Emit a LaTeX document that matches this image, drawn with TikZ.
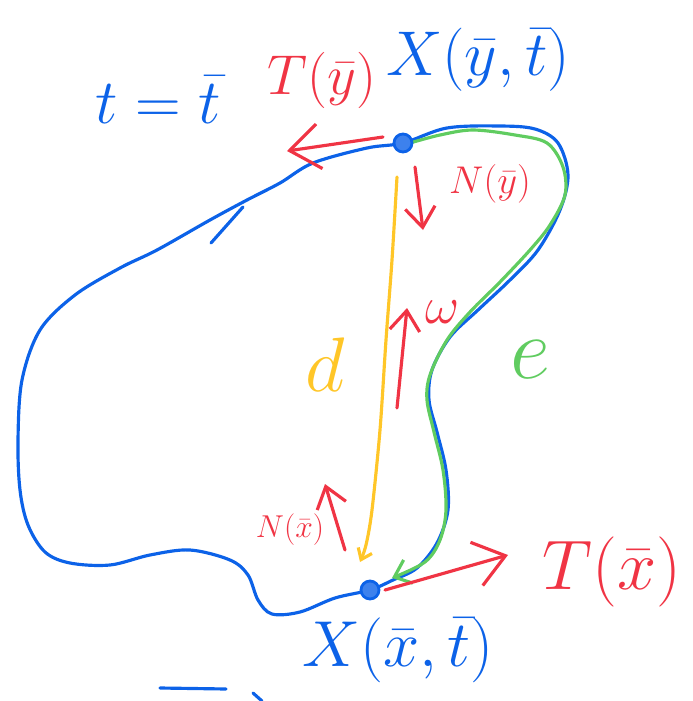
\RequirePackage{fix-cm}
\documentclass[tikz,border=0pt]{standalone}
\usepackage{amsmath}
\usetikzlibrary{arrows.meta, positioning}

\definecolor{penblue}{RGB}{12,98,232}
\definecolor{penred}{RGB}{240,52,68}
\definecolor{pengreen}{RGB}{96,204,96}
\definecolor{penyellow}{RGB}{255,198,40}

\begin{document}
\begin{tikzpicture}[
    x=0.02cm, y=-0.02cm,
    pen/.style={line width=1.8pt, line cap=round, line join=round},
    curve_blue/.style={pen, draw=penblue},
    curve_green/.style={pen, draw=pengreen, -{Straight Barb[length=3mm, width=5mm]}},
    curve_yellow/.style={pen, draw=penyellow, -{Straight Barb[length=2mm, width=3mm]}},
    arrow_red/.style={pen, draw=penred, -{Straight Barb[length=4mm, width=6mm]}},
    arrow_red_big/.style={arrow_red, -{Straight Barb[length=6mm, width=9mm]}},
    dot/.style={circle, draw=penblue, line width=1.6pt, fill=penblue!80, inner sep=0pt, minimum size=3.6mm},
    lbl/.style={inner sep=0pt, font=\fontsize{#1}{#1}\selectfont},
    lbl_blue/.style={lbl=#1, text=penblue},
    lbl_red/.style={lbl=#1, text=penred},
    lbl_green/.style={lbl=#1, text=pengreen},
    lbl_yellow/.style={lbl=#1, text=penyellow}
]
\useasboundingbox (0,0) rectangle (693,701);

% --- Points on the curve ---
\coordinate (pt_y) at (403,143);
\coordinate (pt_x) at (370,590);

% --- Blue outline ---
\draw[curve_blue] plot[smooth cycle, tension=0.55] coordinates {
    (403,143) (447,128) (500,126) (535,129) (558,143) (568,175) (560,210)
    (538,250) (510,280) (478,310) (450,337) (432,370) (429,400) (437,432)
    (446,470) (448,510) (437,543) (417,568) (393,580) (370,590) (335,598)
    (300,612) (272,614) (258,600) (248,575) (230,560) (190,550) (150,555)
    (110,565) (70,563) (45,552) (28,525) (20,490) (18,440) (22,380) (40,330)
    (75,295) (120,268) (157,250) (210,220) (247,200) (280,183) (313,163)
    (367,148)};
\draw[curve_blue] (211,243) -- (243,207);

% --- Green arc length ---
\draw[curve_green] plot[smooth, tension=0.55] coordinates {
    (410,143) (440,135) (473,130) (515,135) (547,143) (563,167) (565,195)
    (550,225) (530,250) (500,282) (470,312) (447,340) (430,375) (427,400)
    (434,432) (443,470) (446,510) (440,540) (425,562) (392,578)};

% --- Yellow distance ---
\draw[curve_yellow] plot[smooth, tension=0.5] coordinates {
    (397,177) (392,260) (386,340) (380,430) (372,510) (366,545) (360,562)};

% --- Dots ---
\node[dot] (dot_y) at (pt_y) {};
\node[dot] (dot_x) at (pt_x) {};

% --- Red vectors ---
\coordinate (tan_y_start) at (383,137);
\coordinate (tan_y_end) at (287,151);
\draw[arrow_red_big] (tan_y_start) -- (tan_y_end);

\coordinate (nrm_y_start) at (415,167);
\coordinate (nrm_y_end) at (423,230);
\draw[arrow_red] (nrm_y_start) -- (nrm_y_end);

\coordinate (omega_start) at (397,408);
\coordinate (omega_end) at (407,308);
\draw[arrow_red] (omega_start) -- (omega_end);

\coordinate (nrm_x_start) at (345,550);
\coordinate (nrm_x_end) at (325,484);
\draw[arrow_red] (nrm_x_start) -- (nrm_x_end);

\coordinate (tan_x_start) at (385,590);
\coordinate (tan_x_end) at (508,555);
\draw[arrow_red_big] (tan_x_start) -- (tan_x_end);

% --- Labels ---
\node[lbl_blue=36] (time_eq) at (158,100) {$t=\bar{t}$};
\node[lbl_red=32] (tan_y_lbl) at (322,80) {$T(\bar{y})$};
\node[lbl_blue=36] (pos_y_lbl) at (478,60) {$X(\bar{y},\bar{t})$};
\node[lbl_red=22] (nrm_y_lbl) at (490,184) {$N(\bar{y})$};
\node[lbl_red=30] (omega_lbl) at (443,312) {$\omega$};
\node[lbl_yellow=44] (dist_lbl) at (325,365) {$d$};
\node[lbl_green=50] (len_lbl) at (530,360) {$e$};
\node[lbl_red=18] (nrm_x_lbl) at (290,530) {$N(\bar{x})$};
\node[lbl_red=40] (tan_x_lbl) at (612,572) {$T(\bar{x})$};
\node[lbl_blue=37] (pos_x_lbl) at (398,650) {$X(\bar{x},\bar{t})$};

% --- Cut-off strokes at the bottom ---
\draw[curve_blue] (160,688) -- (226,689);
\draw[curve_blue] (253,693) -- (262,701);

\end{tikzpicture}
\end{document}
